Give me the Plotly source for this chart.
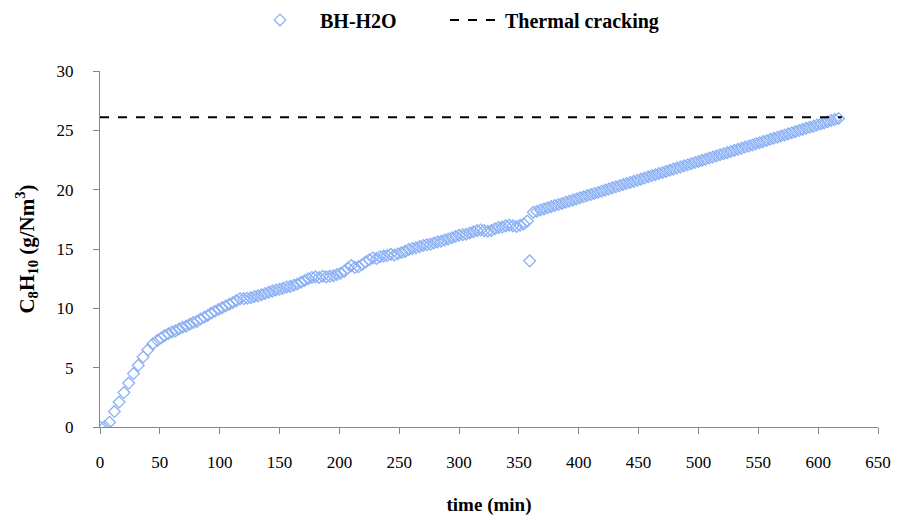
import plotly.graph_objects as go

# Start-up phase: 4-minute sampling
t_startup = [0, 4, 8, 12, 16, 20, 24, 28, 32, 36, 40, 44, 48]
c_startup = [0.0, 0.05, 0.4, 1.3, 2.1, 2.9, 3.7, 4.5, 5.2, 5.9, 6.5, 7.0, 7.3]

# Steady run: 3-minute sampling up to the water switch
t_run = [51, 54, 57, 60, 63, 66, 69, 72, 75, 78, 81, 84, 87, 90, 93, 96, 99, 102, 105, 108,
         111, 114, 117, 120, 123, 126, 129, 132, 135, 138, 141, 144, 147, 150, 153, 156, 159,
         162, 165, 168, 171, 174, 177, 180, 183, 186, 189, 192, 195, 198, 201, 204, 207, 210,
         213, 216, 219, 222, 225, 228, 231, 234, 237, 240, 243, 246, 249, 252, 255, 258, 261,
         264, 267, 270, 273, 276, 279, 282, 285, 288, 291, 294, 297, 300, 303, 306, 309, 312,
         315, 318, 321, 324, 327, 330, 333, 336, 339, 342, 345, 348, 351, 354, 357]
c_run = [7.5, 7.7, 7.85, 8.0, 8.1, 8.25, 8.4, 8.5, 8.65, 8.8, 8.9, 9.1, 9.25, 9.4, 9.6, 9.75,
         9.9, 10.05, 10.2, 10.35, 10.5, 10.65, 10.8, 10.8, 10.85, 10.9, 11.0, 11.05, 11.15,
         11.25, 11.35, 11.45, 11.55, 11.6, 11.7, 11.8, 11.85, 11.95, 12.05, 12.2, 12.35, 12.5,
         12.6, 12.65, 12.6, 12.7, 12.65, 12.7, 12.75, 12.85, 12.95, 13.1, 13.4, 13.6, 13.45,
         13.5, 13.7, 13.9, 14.1, 14.25, 14.2, 14.35, 14.4, 14.45, 14.55, 14.5, 14.6, 14.7,
         14.8, 14.95, 15.05, 15.1, 15.2, 15.3, 15.35, 15.4, 15.5, 15.6, 15.65, 15.75, 15.85,
         15.95, 16.05, 16.15, 16.2, 16.25, 16.35, 16.45, 16.55, 16.6, 16.55, 16.5, 16.55,
         16.7, 16.8, 16.85, 16.95, 17.0, 16.95, 16.9, 17.0, 17.1, 17.35]

# Single low reading at the switch
t_dip = [359]
c_dip = [14.0]

# Final phase: near-linear rise
t_final = [362, 365, 368, 371, 374, 377, 380, 383, 386, 389, 392, 395, 398, 401, 404, 407,
           410, 413, 416, 419, 422, 425, 428, 431, 434, 437, 440, 443, 446, 449, 452, 455,
           458, 461, 464, 467, 470, 473, 476, 479, 482, 485, 488, 491, 494, 497, 500, 503,
           506, 509, 512, 515, 518, 521, 524, 527, 530, 533, 536, 539, 542, 545, 548, 551,
           554, 557, 560, 563, 566, 569, 572, 575, 578, 581, 584, 587, 590, 593, 596, 599,
           602, 605, 608, 611, 614, 617]
c_final = [18.10, 18.19, 18.29, 18.38, 18.47, 18.57, 18.66, 18.75, 18.84, 18.94, 19.03, 19.12,
           19.22, 19.31, 19.40, 19.50, 19.59, 19.68, 19.77, 19.87, 19.96, 20.05, 20.15, 20.24,
           20.33, 20.43, 20.52, 20.61, 20.70, 20.80, 20.89, 20.98, 21.08, 21.17, 21.26, 21.36,
           21.45, 21.54, 21.63, 21.73, 21.82, 21.91, 22.01, 22.10, 22.19, 22.29, 22.38, 22.47,
           22.56, 22.66, 22.75, 22.84, 22.94, 23.03, 23.12, 23.22, 23.31, 23.40, 23.49, 23.59,
           23.68, 23.77, 23.87, 23.96, 24.05, 24.15, 24.24, 24.33, 24.42, 24.52, 24.61, 24.70,
           24.80, 24.89, 24.98, 25.08, 25.17, 25.26, 25.35, 25.45, 25.54, 25.63, 25.73, 25.82,
           25.91, 26.00]

# Thermal cracking reference level
t_thermal = [0, 620]
c_thermal = [26.1, 26.1]

x_ticks = [0, 50, 100, 150, 200, 250, 300, 350, 400, 450, 500, 550, 600, 650]
y_ticks = [0, 5, 10, 15, 20, 25, 30]

time_min = t_startup + t_run + t_dip + t_final
c8h10 = c_startup + c_run + c_dip + c_final

FONT = "Liberation Serif"
AXIS_GREY = "#868686"
LEGEND_FONT = dict(family=FONT, size=20, color="black", weight="bold")

fig = go.Figure()
fig.add_trace(go.Scatter(
    x=time_min, y=c8h10, mode="markers", name="BH-H2O", legend="legend",
    marker=dict(symbol="diamond-open", size=9, color="#8AB0F5", line=dict(width=1.3)),
))
fig.add_trace(go.Scatter(
    x=t_thermal, y=c_thermal, mode="lines", name="Thermal cracking", legend="legend2",
    line=dict(color="black", width=2, dash="dash"),
))

# one legend box per entry so the two keys can be spaced independently
legend_common = dict(
    orientation="h", xref="container", xanchor="left",
    yref="container", y=0.962, yanchor="middle",
    font=LEGEND_FONT, bgcolor="rgba(0,0,0,0)",
)

fig.update_layout(
    width=898, height=524,
    margin=dict(l=100, r=20, t=71, b=97, autoexpand=False),
    paper_bgcolor="white", plot_bgcolor="white",
    font=dict(family=FONT, size=17, color="black"),
    showlegend=True,
    legend=dict(x=240 / 898, itemwidth=70, **legend_common),
    legend2=dict(x=445 / 898, itemwidth=50, **legend_common),
    xaxis=dict(
        range=[0, 650], tickvals=x_ticks, ticktext=[str(v) for v in x_ticks],
        showline=True, linecolor=AXIS_GREY, linewidth=1,
        ticks="outside", ticklen=6, tickcolor=AXIS_GREY, tickwidth=1,
        showgrid=False, zeroline=False, ticklabelstandoff=14,
        title=dict(text="<b>time (min)</b>", font=dict(family=FONT, size=19), standoff=26),
    ),
    yaxis=dict(
        range=[0, 30], tickvals=y_ticks, ticktext=[str(v) for v in y_ticks],
        showline=True, linecolor=AXIS_GREY, linewidth=1,
        ticks="outside", ticklen=6, tickcolor=AXIS_GREY, tickwidth=1,
        showgrid=False, zeroline=False, ticklabelstandoff=16,
        title=dict(text="<b>C<sub>8</sub>H<sub>10</sub> (g/Nm<sup>3</sup>)</b>",
                   font=dict(family=FONT, size=21), standoff=16),
    ),
)

fig.write_html("out.html")
